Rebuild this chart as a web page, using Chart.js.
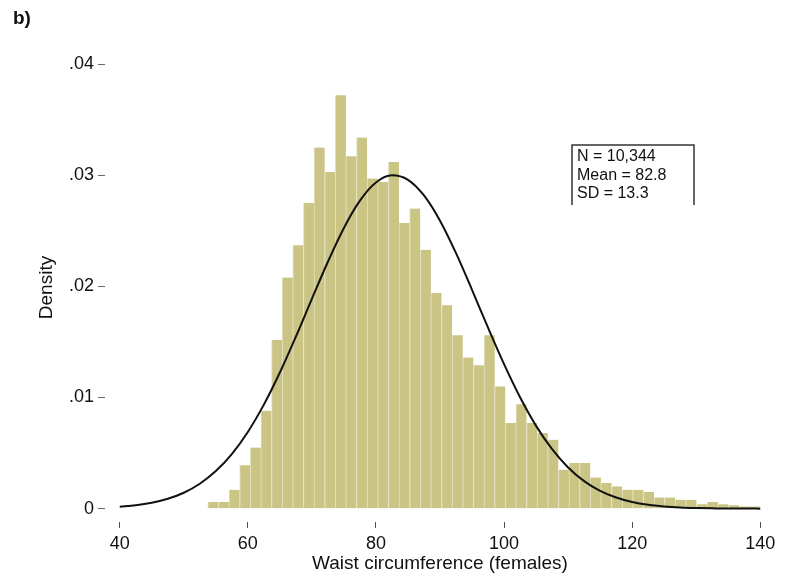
<!DOCTYPE html>
<html lang="en">
<head>
<meta charset="UTF-8">
<title>Waist circumference (females)</title>
<script src="https://cdn.jsdelivr.net/npm/chart.js"></script>
<style>
  html, body { margin: 0; padding: 0; background: #fff; }
</style>
</head>
<body>
<canvas id="waistChart" width="787" height="585"></canvas>

<script>
    // histogram: 52 bins from 53.75 to 140 cm, density per bin
    const binFrom = 53.75;
    const binTo = 140;
    const densities = [
        0.0006, 0.0006, 0.0017, 0.0039, 0.0055, 0.0088, 0.0152, 0.0208, 0.0237, 0.0275,
        0.0325, 0.0303, 0.0372, 0.0317, 0.0334, 0.0297, 0.0294, 0.0312, 0.0257, 0.0270,
        0.0233, 0.0194, 0.0183, 0.0156, 0.0136, 0.0129, 0.0156, 0.0110, 0.0077, 0.0094,
        0.0077, 0.0068, 0.0062, 0.0035, 0.0041, 0.0041, 0.0028, 0.0023, 0.0020, 0.0017,
        0.0017, 0.0015, 0.0010, 0.0010, 0.0008, 0.0008, 0.0004, 0.0006, 0.0004, 0.0003,
        0.0002, 0.0002
    ];

    // normal curve overlay (mean 82.8, sd 13.3), sampled every 2.5 cm
    const curveX = [
        40, 42.5, 45, 47.5, 50, 52.5, 55, 57.5, 60, 62.5, 65, 67.5, 70, 72.5, 75, 77.5, 80,
        82.5, 85, 87.5, 90, 92.5, 95, 97.5, 100, 102.5, 105, 107.5, 110, 112.5, 115, 117.5,
        120, 122.5, 125, 127.5, 130, 132.5, 135, 137.5, 140
    ];
    const curveY = [
        0.00017, 0.00030, 0.00053, 0.00089, 0.00143, 0.00224, 0.00338, 0.00491, 0.00690,
        0.00936, 0.01225, 0.01548, 0.01888, 0.02222, 0.02526, 0.02771, 0.02934, 0.02999,
        0.02959, 0.02818, 0.02591, 0.02299, 0.01969, 0.01628, 0.01300, 0.01002, 0.00745,
        0.00535, 0.00371, 0.00248, 0.00160, 0.00100, 0.00060, 0.00035, 0.00020, 0.00011,
        0.00006, 0.00003, 0.00001, 0.00001, 0.00000
    ];

    const xTicks = [40, 60, 80, 100, 120, 140];
    const yTicks = [0, 0.01, 0.02, 0.03, 0.04];
    const statLines = ['N = 10,344', 'Mean = 82.8', 'SD = 13.3'];

    const FONT = '"Liberation Sans", Arial, Helvetica, sans-serif';

    const binWidth = (binTo - binFrom) / densities.length;
    const barData = densities.map((d, i) => ({ x: binFrom + (i + 0.5) * binWidth, y: d }));
    const curveData = curveX.map((x, i) => ({ x: x, y: curveY[i] }));

    // panel letter + the N/Mean/SD box
    const annotations = {
        id: 'annotations',
        afterDraw(chart) {
            const ctx = chart.ctx;
            ctx.save();
            ctx.fillStyle = '#111';
            ctx.font = 'bold 19px ' + FONT;
            ctx.textBaseline = 'middle';
            ctx.textAlign = 'left';
            ctx.fillText('b)', 13, 19);

            ctx.strokeStyle = '#333';
            ctx.lineWidth = 1.5;
            ctx.beginPath();
            ctx.moveTo(572, 205);
            ctx.lineTo(572, 145);
            ctx.lineTo(694, 145);
            ctx.lineTo(694, 205);
            ctx.stroke();

            ctx.font = '16px ' + FONT;
            statLines.forEach((t, i) => ctx.fillText(t, 577, 157 + i * 18.5));
            ctx.restore();
        }
    };

    new Chart(document.getElementById('waistChart'), {
        data: {
            datasets: [
                {
                    type: 'line',
                    data: curveData,
                    borderColor: '#111',
                    borderWidth: 2,
                    pointRadius: 0,
                    cubicInterpolationMode: 'monotone',
                    order: 0
                },
                {
                    type: 'bar',
                    data: barData,
                    backgroundColor: '#cbc585',
                    borderColor: '#e4e1bf',
                    borderWidth: { left: 1, right: 0, top: 0, bottom: 0 },
                    borderSkipped: false,
                    categoryPercentage: 1,
                    barPercentage: 1,
                    order: 1
                }
            ]
        },
        options: {
            responsive: false,
            devicePixelRatio: 1,
            animation: false,
            layout: { padding: { top: 53, right: 12, bottom: 0, left: 0 } },
            plugins: { legend: { display: false }, tooltip: { enabled: false } },
            scales: {
                x: {
                    type: 'linear',
                    min: 37.7,
                    max: 142.3,
                    offset: false,
                    afterBuildTicks: s => { s.ticks = xTicks.map(v => ({ value: v })); },
                    afterFit: s => { s.height = 63; },
                    border: { display: false },
                    grid: { offset: false, drawOnChartArea: false, drawTicks: true, tickLength: 6, color: '#555' },
                    ticks: {
                        color: '#111',
                        padding: 5,
                        maxRotation: 0,
                        font: { family: FONT, size: 18 }
                    },
                    title: {
                        display: true,
                        text: 'Waist circumference (females)',
                        color: '#111',
                        font: { family: FONT, size: 19 },
                        padding: { top: 0, bottom: 10 }
                    }
                },
                y: {
                    min: -0.0012,
                    max: 0.041,
                    afterBuildTicks: s => { s.ticks = yTicks.map(v => ({ value: v })); },
                    afterFit: s => { s.width = 105; },
                    border: { display: false },
                    grid: { drawOnChartArea: false, drawTicks: true, tickLength: 7, color: '#666' },
                    ticks: {
                        color: '#111',
                        padding: 4,
                        font: { family: FONT, size: 18 },
                        callback: v => v === 0 ? '0' : v.toFixed(2).replace(/^0/, '')
                    },
                    title: {
                        display: true,
                        text: 'Density',
                        color: '#111',
                        font: { family: FONT, size: 19 },
                        padding: { top: 35, bottom: 0 }
                    }
                }
            }
        },
        plugins: [annotations]
    });
</script>
</body>
</html>
